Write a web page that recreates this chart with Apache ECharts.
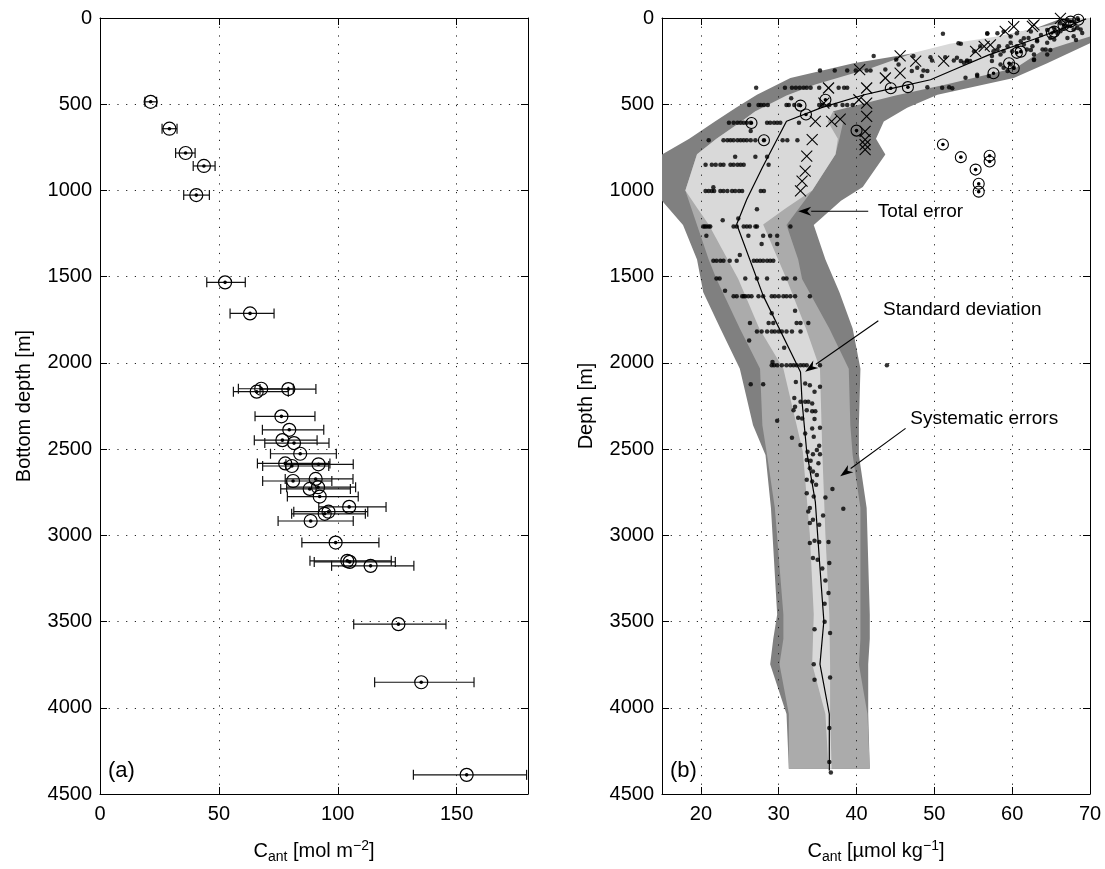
<!DOCTYPE html>
<html><head><meta charset="utf-8">
<script src="https://cdn.jsdelivr.net/npm/echarts@6/dist/echarts.min.js"></script>
<style>html,body{margin:0;padding:0;background:#fff}#c{width:1105px;height:869px}</style>
</head><body><div id="c"></div>
<script>
// ---------- Panel (a) ----------
const aDepth = [486,642,783,858,1027,1533,1713,2150,2167,2152,2310,2388,2448,2465,2527,2583,2598,2588,2685,2673,2731,2721,2775,2835,2863,2875,2917,3042,3148,3154,3177,3515,3852,4389];
const aCant  = [21.3,29.2,36.0,43.7,40.5,52.6,63.1,67.8,65.9,79.2,76.3,79.6,76.7,81.6,84.2,77.9,80.7,91.9,81.2,90.7,88.2,91.7,92.4,104.8,96.1,94.5,88.6,99.1,104.0,105.0,113.8,125.5,135.1,154.2];
const aLow   = [18.9,26.1,31.8,39.2,35.2,44.9,54.7,58.2,56.1,67.3,65.2,68.3,64.9,69.3,71.7,66.2,68.4,78.2,68.4,77.9,76.0,78.5,78.8,92.0,81.5,80.6,74.9,84.9,88.3,90.1,97.4,106.7,115.5,131.8];
const aHigh  = [23.8,32.4,40.0,48.4,46.0,61.1,73.2,81.3,79.2,90.8,90.4,94.1,91.3,96.3,99.4,96.7,96.2,106.5,97.5,106.4,105.3,107.5,108.6,120.3,112.6,111.6,106.5,117.3,122.5,124.2,132.0,145.5,157.3,179.4];
const aXTicks = [0,50,100,150];
const depthTicks = [0,500,1000,1500,2000,2500,3000,3500,4000,4500];

// ---------- Panel (b) ----------
const bXTicks = [20,30,40,50,60,70];
const meanDepth = [5,60,120,214,300,358,414,445,520,599,867,1051,1196,1610,2053,2226,2515,2804,3189,3497,3747,4036,4363];
const meanCant  = [69.5,66.5,63,57,52.5,49.5,44,41,35.5,31.0,27.9,25.9,24.6,28.0,32.8,33.0,33.6,34.7,35.3,35.8,35.3,36.5,36.5];

const totalDepth = [0,60,146,262,348,445,520,600,700,792,980,1060,1200,1400,1590,1800,2034,2361,2534,2842,3459,3600,3747,4036,4354];
const totalLow   = [66.5,63,55,39.6,31.5,27.2,24.5,21.8,18.5,15,15,15,17.7,19.5,20.3,22.5,25.0,26.7,28.3,29.0,29.8,29.3,28.9,31.0,31.3];
const totalHigh  = [70,70,70,64.5,60.2,50.4,46.5,43.5,42.5,43.7,40.8,38,34.5,36,37.8,39.5,40.5,40.3,40.3,41.3,41.7,41.7,41.5,41.5,41.7];

const sysDepth = [541,600,700,790,1000,1200,1400,1514,1800,2034,2361,2534,2842,3459,3600,3747,4036,4354];
const sysLow   = [27,25.2,22,19.5,18.0,19.5,21.0,22.0,25.0,27.6,27.9,28.5,29.5,30.6,30.6,30.1,31.3,31.3];
const sysHigh  = [37.0,38.3,37.8,37.3,34.3,31.0,32.5,33.0,36.5,39.0,39.2,39.5,40.5,40.5,40.5,40.3,41.4,41.7];

const stdDepth = [0,30,108,150,200,289,385,450,541,600,700,790,1001,1100,1198,1514,1800,2034,2515,2997,3459,3747,4036,4354];
const stdLow   = [68.5,66,58,52,47.5,42,34.7,31,27,25.2,22,19.5,18.0,19.5,21.0,24.8,27.5,30.6,33.1,34.0,34.5,34.3,36.0,36.4];
const stdHigh  = [70,70,70,67,63.5,60.5,51.5,45,37.0,36.3,37.6,37.3,34.3,31.0,28.0,31.0,33.5,35.3,35.6,36.0,36.5,36.6,36.6,36.8];

// individual samples [Cant, depth]
const bDots = [
 [35.3,304],[37.2,304],[38.8,304],[39.9,304],
 [27.1,404],[30.8,404],[31.7,404],[32.2,404],[32.7,404],[33.2,404],[33.6,404],[34.1,404],[35.2,404],[37.7,404],[38.4,404],[38.8,404],
 [31.6,466],
 [26.2,505],[27.4,505],[27.7,505],[28.1,505],[28.6,505],[31.0,505],[31.3,505],[32.0,505],[32.6,505],[35.2,505],[35.6,505],[36.5,505],[37.3,505],[38.2,505],[38.8,505],[39.5,505],
 [23.6,607],[24.2,607],[24.7,607],[25.1,607],[25.5,607],[25.9,607],[26.4,607],[28.5,607],[28.9,607],[29.4,607],[29.8,607],[30.2,607],[32.6,607],
 [26.4,655],
 [21.0,709],[22.9,709],[23.4,709],[23.8,709],[24.2,709],[24.7,709],[25.1,709],[25.5,709],[25.9,709],[26.4,709],[27.0,709],[28.1,709],[30.5,709],[31.1,709],[32.4,709],
 [24.4,805],[27.0,805],[28.5,805],
 [20.6,851],[21.4,851],[21.9,851],[22.5,851],[22.9,851],[23.8,851],[24.2,851],[24.7,851],[25.1,851],[25.5,851],[28.7,851],
 [21.6,982],
 [20.6,1003],[21.0,1003],[21.4,1003],[21.7,1003],[22.5,1003],[22.9,1003],[23.4,1003],[24.0,1003],[24.4,1003],[24.9,1003],[25.3,1003],[27.7,1003],[28.1,1003],
 [27.2,1109],[22.8,1173],[24.8,1163],
 [20.3,1209],[20.5,1209],[20.7,1209],[21.0,1209],[21.2,1209],[24.2,1209],[24.6,1209],[25.5,1209],[25.9,1209],[26.3,1209],[27.0,1209],[27.2,1209],[31.5,1209],
 [20.7,1263],[26.1,1263],[28.0,1263],[28.9,1263],[29.8,1263],[29.8,1311],[27.8,1311],[25.0,1375],
 [21.6,1408],[22.0,1408],[22.5,1408],[22.9,1408],[23.7,1408],[24.6,1408],[26.8,1408],[27.2,1408],[27.6,1408],[28.0,1408],[28.5,1408],[28.9,1408],[29.3,1408],
 [22.0,1510],[22.4,1510],[25.7,1510],[27.2,1510],[28.5,1510],[30.6,1510],[31.0,1510],[32.1,1510],
 [23.1,1581],
 [24.2,1614],[24.6,1614],[25.3,1614],[25.5,1614],[25.7,1614],[26.1,1614],[26.5,1614],[27.4,1614],[28.0,1614],[29.1,1614],[29.5,1614],[30.0,1614],[30.6,1614],[31.0,1614],[31.5,1614],[32.1,1614],[34.0,1614],
 [32.1,1697],[29.1,1712],
 [26.3,1768],[28.7,1768],[29.3,1768],[32.3,1768],[32.8,1768],[33.8,1768],
 [27.2,1818],[27.8,1818],[28.5,1818],[29.1,1818],[29.5,1818],[30.0,1818],[30.4,1818],[31.0,1818],[31.7,1818],[32.8,1818],
 [26.2,1870],[30.7,1912],[29.2,1995],
 [29.1,2014],[29.4,2014],[29.8,2014],[30.4,2014],[31.0,2014],[31.5,2014],[31.9,2014],[32.3,2014],[32.8,2014],[33.2,2014],[33.6,2014],[35.3,2014],[43.9,2014],
 [26.4,2124],[28.0,2124],[32.2,2111],[33.4,2120],[34.0,2130],[35.3,2139],[34.6,2168],
 [32.0,2203],[32.8,2226],[33.4,2226],[33.8,2226],[34.3,2236],[32.1,2255],[31.9,2274],[33.6,2274],[34.3,2280],[34.7,2280],
 [32.5,2318],[33.0,2322],[34.6,2326],[29.8,2336],[34.3,2380],[35.3,2376],[33.4,2409],[34.5,2428],[31.7,2434],
 [32.8,2476],[35.2,2480],[34.9,2505],[33.7,2515],[34.4,2530],[35.3,2530],[33.6,2563],[34.1,2568],[35.1,2582],
 [34.0,2611],[34.4,2630],[34.9,2650],[33.6,2678],[34.3,2688],[34.8,2707],[36.9,2731],[33.6,2756],[34.5,2775],[36.0,2781],
 [34.0,2842],[38.3,2846],[33.8,2862],[35.7,2885],[34.4,2910],[34.0,2929],[35.2,2939],
 [34.6,3031],[34.0,3044],[35.2,3039],[36.4,3039],[34.4,3131],[35.0,3141],[36.5,3160],[35.6,3193],[36.0,3262],[36.4,3335],[35.9,3397],
 [35.9,3501],[34.6,3545],[36.6,3566],
 [34.5,3747],[34.6,3838],[36.6,3824],[36.5,4117],[36.5,4315],[36.7,4375],
 [51.1,92],[53.4,150],[56.8,92],[42.2,221],[45.1,241],[45.4,270],[47.3,221],[47.8,289],[47.1,308],[48.6,304],[49.1,308],[43.7,298],[41.8,304],[41.3,304],
 [49.5,227],[49.7,246],[51.4,227],[52.5,246],[52.9,231],[53.4,250],[53.8,260],[54.2,246],[54.6,250],
 [48.4,337],[49.1,401],[51.0,404],[51.9,401],[52.3,408],[54.0,347],[55.5,337],[57.0,337],
 [55.1,193],[55.9,164],[57.4,221],[57.6,193],[58.1,183],[58.5,212],[58.3,164],[58.9,193],[59.4,164],[59.8,144],[60.0,193],[60.6,164],
 [61.1,135],[61.5,154],[61.9,183],[62.1,116],[62.6,164],[62.8,212],[63.2,135],[63.9,183],[64.3,183],[64.5,144],[64.9,116],[65.4,125],
 [65.8,87],[66.2,77],[66.6,58],[67.1,48],[67.9,67],[68.4,58],[68.8,67],[67.9,106],[67.1,116],[69.0,87],
 [58.5,270],[58.9,289],[59.4,308],[59.8,270],[60.2,289],[57.4,250],[62.8,241],[64.5,212],
 [58.1,89],[58.9,79],[59.8,108],[60.6,89],[61.5,118],[62.4,79],[63.2,127],[63.7,98],[64.5,69],[65.4,60],[66.2,31],[67.1,12],[67.9,21],[68.4,2],
 [68.2,127],[64.9,185],[62.4,185],[62.8,243],[56.8,89],[53.1,146],[54.2,252],[55.5,329]
];
const bCircles = [
 [65.4,79],[67.5,21],[66.6,40],[68.5,10],[61.1,195],[59.6,262],[60.2,291],[57.6,320],[60.6,202],[65.1,87],[67.5,48],
 [46.6,401],[44.4,407],[36.0,474],[33.5,560],[32.8,508],[40.0,653],[28.1,709],[26.5,609],
 [51.1,734],[53.4,807],[55.3,879],[57.1,799],[57.1,832],[55.7,961],[55.7,1007]
];
const bCrosses = [
 [66.2,2],[60.2,50],[62.8,40],[59.1,77],[62.6,48],[57.2,156],[56.4,164],[55.3,193],[51.2,250],[45.6,220],[47.6,250],
 [43.7,348],[45.6,320],[40.4,300],[36.4,406],[41.3,406],[35.8,493],[40.3,474],[41.3,493],
 [36.8,599],[37.9,586],[34.7,599],[41.3,570],[34.3,705],[41.1,657],[41.1,705],[41.1,734],[41.1,763],
 [33.6,801],[33.4,888],[33.0,946],[32.8,1003]
];
const annTexts = ['Total error','Standard deviation','Systematic errors'];
const annTextAt = [[42.2,1121],[42.9,1693],[46.4,2322]];
const annFrom = [[41.5,1121],[42.8,1756],[46.3,2380]];
const annTo = [[32.5,1121],[33.4,2051],[37.9,2657]];

const FONT = 'Liberation Sans, Arial, Helvetica, sans-serif';
const chart = echarts.init(document.getElementById('c'), null, {renderer:'canvas'});
const GRIDDOT = {color:'#222', width:1, type:[1.2,7.5]};

function dotted(){ return {show:true, lineStyle:GRIDDOT}; }
function baseY(gi, show){
  return {type:'value', gridIndex:gi, inverse:true, min:0, max:4500, interval:500,
    axisLine:{show:true, onZero:false, lineStyle:{color:'#000', width:1}},
    axisTick:{show:true, inside:true, length:7, lineStyle:{color:'#000'}},
    axisLabel:{show:show, color:'#000', fontSize:20, fontFamily:FONT, margin:8, formatter:v => String(v)},
    splitLine: show ? dotted() : {show:false}};
}
const richName = {a:{fontSize:20,color:'#000',fontFamily:FONT},s:{fontSize:14,color:'#000',fontFamily:FONT,padding:[12,0,0,0]},p:{fontSize:14,color:'#000',fontFamily:FONT,padding:[0,0,10,0]}};

const option = {
  animation:false,
  backgroundColor:'#fff',
  textStyle:{fontFamily:FONT},
  grid:[
    {left:100, top:18, width:428, height:779},
    {left:662, top:18, width:428, height:779}
  ],
  xAxis:[
    {type:'value', gridIndex:0, min:0, max:180, interval:50, position:'bottom',
     axisLine:{show:true, onZero:false, lineStyle:{color:'#000'}},
     axisTick:{show:true, inside:true, length:7, lineStyle:{color:'#000'}},
     axisLabel:{color:'#000', fontSize:20, fontFamily:FONT, margin:10, formatter:v => aXTicks.includes(v)?String(v):''},
     splitLine:dotted(),
     name:'{a|C}{s|ant}{a| [mol m}{p|\u22122}{a|]}', nameLocation:'middle', nameGap:44,
     nameTextStyle:{rich:richName}},
    {type:'value', gridIndex:1, min:15, max:70, position:'bottom',
     axisLine:{show:true, onZero:false, lineStyle:{color:'#000'}},
     axisTick:{show:true, inside:true, length:7, customValues:bXTicks, lineStyle:{color:'#000'}},
     axisLabel:{color:'#000', fontSize:20, fontFamily:FONT, margin:10, customValues:bXTicks},
     splitLine:{show:false},
     name:'{a|C}{s|ant}{a| [\u00b5mol kg}{p|\u22121}{a|]}', nameLocation:'middle', nameGap:44,
     nameTextStyle:{rich:richName}},
    {type:'value', gridIndex:0, min:0, max:180, interval:50, position:'top',
     axisLine:{show:true, onZero:false, lineStyle:{color:'#000'}},
     axisTick:{show:true, inside:true, length:7, lineStyle:{color:'#000'}},
     axisLabel:{show:false}, splitLine:{show:false}},
    {type:'value', gridIndex:1, min:15, max:70, position:'top',
     axisLine:{show:true, onZero:false, lineStyle:{color:'#000'}},
     axisTick:{show:true, inside:true, length:7, customValues:bXTicks, lineStyle:{color:'#000'}},
     axisLabel:{show:false}, splitLine:{show:false}}
  ],
  yAxis:[
    Object.assign(baseY(0,true), {position:'left', name:'Bottom depth [m]', nameLocation:'middle', nameGap:66, nameTextStyle:{fontSize:20,color:'#000',fontFamily:FONT}}),
    Object.assign(baseY(1,true), {position:'left', name:'Depth [m]', nameLocation:'middle', nameGap:66, nameTextStyle:{fontSize:20,color:'#000',fontFamily:FONT}}),
    Object.assign(baseY(0,false), {position:'right'}),
    Object.assign(baseY(1,false), {position:'right'})
  ],
  graphic:[
    {type:'text', left:108, top:760, style:{text:'(a)', fontSize:22, fontFamily:FONT, fill:'#000'}},
    {type:'text', left:670, top:760, style:{text:'(b)', fontSize:22, fontFamily:FONT, fill:'#000'}}
  ],
  series:[]
};

function ringSeries(xi, yi, data, r, lw, z){
  return {type:'custom', xAxisIndex:xi, yAxisIndex:yi, z:z, data:data, encode:{x:0, y:1},
    renderItem(params, api){
      const p = api.coord([api.value(0), api.value(1)]);
      return {type:'group', children:[
        {type:'circle', shape:{cx:p[0], cy:p[1], r:r}, style:{fill:null, stroke:'#000', lineWidth:lw}},
        {type:'circle', shape:{cx:p[0], cy:p[1], r:1.8}, style:{fill:'#000'}}
      ]};
    }};
}

// Panel (a): error bars
option.series.push({type:'custom', xAxisIndex:0, yAxisIndex:0, z:3,
  data:aDepth.map((d,i)=>[aCant[i], d, aLow[i], aHigh[i]]),
  encode:{x:[0,2,3], y:1},
  renderItem(params, api){
    const d = api.value(1);
    const lo = api.coord([api.value(2), d]), hi = api.coord([api.value(3), d]);
    const h = 5, st = {stroke:'#111', lineWidth:1.2};
    return {type:'group', children:[
      {type:'line', shape:{x1:lo[0],y1:lo[1],x2:hi[0],y2:hi[1]}, style:st},
      {type:'line', shape:{x1:lo[0],y1:lo[1]-h,x2:lo[0],y2:lo[1]+h}, style:st},
      {type:'line', shape:{x1:hi[0],y1:hi[1]-h,x2:hi[0],y2:hi[1]+h}, style:st}
    ]};
  }});
option.series.push(ringSeries(0, 0, aDepth.map((d,i)=>[aCant[i], d]), 6.5, 1.2, 4));

// Panel (b): grid lines (vertical) under bands
option.series.push({type:'line', xAxisIndex:1, yAxisIndex:1, z:1, data:[], silent:true,
  markLine:{silent:true, symbol:'none', label:{show:false}, animation:false,
    lineStyle:GRIDDOT,
    data:bXTicks.filter(v=>v<70).map(v=>({xAxis:v}))}});

function band(depths, lows, highs, color){
  const rows = depths.map((d,i)=>[lows[i], d, highs[i]]);
  return {type:'custom', xAxisIndex:1, yAxisIndex:1, z:2, silent:true, data:rows, encode:{x:[0,2], y:1},
    renderItem(params, api){
      if (params.dataIndex !== 0) return null;
      const pts = [];
      for (let i=0;i<rows.length;i++) pts.push(api.coord([rows[i][0], rows[i][1]]));
      for (let i=rows.length-1;i>=0;i--) pts.push(api.coord([rows[i][2], rows[i][1]]));
      return {type:'polygon', shape:{points:pts}, style:{fill:color}};
    }};
}
option.series.push(band(totalDepth, totalLow, totalHigh, '#808080'));
option.series.push(band(sysDepth, sysLow, sysHigh, '#ababab'));
option.series.push(band(stdDepth, stdLow, stdHigh, '#d9d9d9'));

option.series.push({type:'line', xAxisIndex:1, yAxisIndex:1, z:3, symbol:'none', silent:true,
  lineStyle:{color:'#000', width:1.2}, data:meanDepth.map((d,i)=>[meanCant[i], d])});
option.series.push({type:'scatter', xAxisIndex:1, yAxisIndex:1, z:4, symbol:'circle', symbolSize:4.5,
  itemStyle:{color:'#000'}, data:bDots});
option.series.push(ringSeries(1, 1, bCircles, 5.5, 1.1, 5));
option.series.push({type:'custom', xAxisIndex:1, yAxisIndex:1, z:5, data:bCrosses, encode:{x:0, y:1},
  renderItem(params, api){
    const p = api.coord([api.value(0), api.value(1)]), r = 5.5, st={stroke:'#000', lineWidth:1.1};
    return {type:'group', children:[
      {type:'line', shape:{x1:p[0]-r,y1:p[1]-r,x2:p[0]+r,y2:p[1]+r}, style:st},
      {type:'line', shape:{x1:p[0]-r,y1:p[1]+r,x2:p[0]+r,y2:p[1]-r}, style:st}
    ]};
  }});
// annotations
option.series.push({type:'custom', xAxisIndex:1, yAxisIndex:1, z:6, silent:true,
  data:annTexts.map((t,i)=>[annTextAt[i][0], annTextAt[i][1], annFrom[i][0], annFrom[i][1], annTo[i][0], annTo[i][1]]),
  renderItem(params, api){
    const i = params.dataIndex;
    const tp = api.coord([api.value(0), api.value(1)]);
    const a = api.coord([api.value(2), api.value(3)]), b = api.coord([api.value(4), api.value(5)]);
    const dx=b[0]-a[0], dy=b[1]-a[1], L=Math.hypot(dx,dy), ux=dx/L, uy=dy/L;
    const hl=13, hw=4.5;
    const bx=b[0]-ux*hl, by=b[1]-uy*hl;
    return {type:'group', children:[
      {type:'line', shape:{x1:a[0],y1:a[1],x2:bx,y2:by}, style:{stroke:'#000', lineWidth:1.1}},
      {type:'polygon', shape:{points:[[b[0],b[1]],[bx-uy*hw,by+ux*hw],[b[0]-ux*hl*0.7,b[1]-uy*hl*0.7],[bx+uy*hw,by-ux*hw]]}, style:{fill:'#000'}},
      {type:'text', x:tp[0]+4, y:tp[1], style:{text:annTexts[i], fontSize:19, fontFamily:FONT, fill:'#000', verticalAlign:'middle'}}
    ]};
  }});

chart.setOption(option);
</script></body></html>
